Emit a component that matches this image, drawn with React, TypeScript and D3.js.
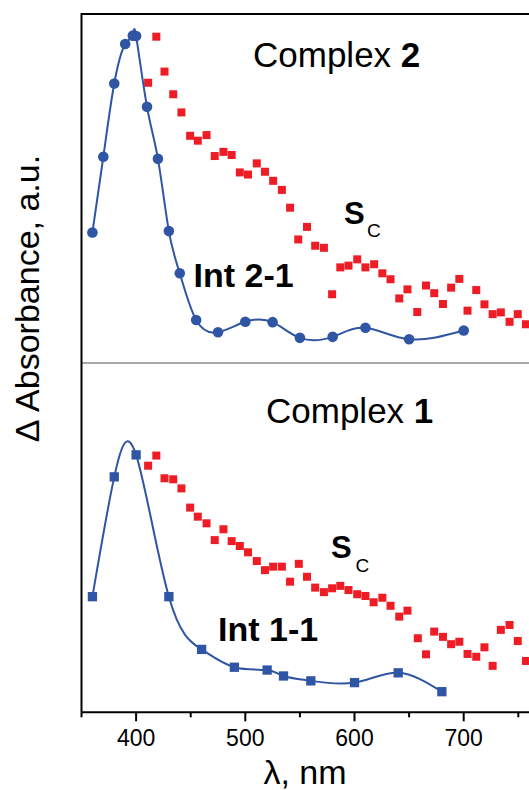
import React from "react";
import * as d3 from "d3";

// ---- data ----
const topIntWl = [360, 370, 380, 390, 397, 400, 410, 420, 430, 440, 455, 475, 500, 525, 550, 580, 610, 650, 700];
const topIntVal = [0.374, 0.591, 0.801, 0.914, 0.938, 0.937, 0.734, 0.585, 0.378, 0.257, 0.123, 0.088, 0.118, 0.117, 0.072, 0.075, 0.101, 0.068, 0.093];

const topScWl = [411, 418.5, 426, 434, 441.5, 449.5, 456.5, 464.5, 472, 480, 487.5, 495, 502.5, 510.5, 518, 525.5, 533.5, 541, 548.5, 556.5, 564, 572, 579.5, 587, 594.5, 602.5, 610, 618, 625.5, 633, 641, 648.5, 657.5, 665.5, 673, 681, 688.5, 696, 703.5, 711.5, 719, 726.5, 734, 742, 749.5, 757];
const topScVal = [0.803, 0.935, 0.835, 0.770, 0.718, 0.651, 0.637, 0.653, 0.593, 0.605, 0.596, 0.546, 0.540, 0.572, 0.548, 0.522, 0.496, 0.445, 0.354, 0.390, 0.336, 0.330, 0.197, 0.274, 0.279, 0.297, 0.274, 0.283, 0.257, 0.240, 0.185, 0.211, 0.146, 0.222, 0.200, 0.169, 0.216, 0.241, 0.150, 0.209, 0.168, 0.140, 0.145, 0.118, 0.140, 0.111];

const botIntWl = [360, 380, 400, 430, 460, 490, 520, 535, 560, 600, 640, 680];
const botIntVal = [0.331, 0.674, 0.737, 0.331, 0.180, 0.129, 0.121, 0.104, 0.090, 0.085, 0.113, 0.059];

const botScWl = [411, 418.5, 426, 434, 441.5, 449.5, 456.5, 464.5, 472, 480, 487.5, 495, 502.5, 510.5, 518, 525.5, 533.5, 541, 549, 556.5, 564, 572, 579.5, 587, 594.5, 602.5, 610, 617.5, 625.5, 633, 641, 648.5, 658, 665.5, 673, 681, 688.5, 696, 703.5, 711.5, 719, 726.5, 734, 742, 749.5, 757];
const botScVal = [0.706, 0.735, 0.670, 0.667, 0.641, 0.586, 0.560, 0.541, 0.493, 0.524, 0.490, 0.476, 0.458, 0.433, 0.407, 0.417, 0.417, 0.374, 0.425, 0.388, 0.357, 0.344, 0.355, 0.362, 0.350, 0.338, 0.333, 0.315, 0.328, 0.305, 0.274, 0.291, 0.212, 0.166, 0.231, 0.216, 0.195, 0.202, 0.167, 0.159, 0.186, 0.133, 0.236, 0.250, 0.204, 0.147];

const majorTicks = [400, 500, 600, 700];
const minorTicks = [350, 450, 550, 650, 750];

const BLUE = "#2f55a4";
const RED = "#ee1c24";
const FONT = "'Liberation Sans', Arial, Helvetica, sans-serif";

export default function App() {
  const W = 529, H = 790;
  const left = 81.5, top = 14, mid = 363, bottom = 712.3;
  const x = d3.scaleLinear().domain([350, 750]).range([left, left + 400 * 1.092]);
  const yTop = d3.scaleLinear().domain([0, 1]).range([mid, top]);
  const yBot = d3.scaleLinear().domain([0, 1]).range([bottom, mid]);

  const mkLine = (y: d3.ScaleLinear<number, number>) =>
    d3.line<[number, number]>().x(d => x(d[0])).y(d => y(d[1])).curve(d3.curveNatural);

  const topInt: [number, number][] = topIntWl.map((w, i) => [w, topIntVal[i]]);
  const botInt: [number, number][] = botIntWl.map((w, i) => [w, botIntVal[i]]);
  const topSc: [number, number][] = topScWl.map((w, i) => [w, topScVal[i]]);
  const botSc: [number, number][] = botScWl.map((w, i) => [w, botScVal[i]]);

  const rs = 8; // red square size
  const bs = 9.3; // blue square size

  return (
    <svg width={W} height={H} style={{ position: "absolute", left: 0, top: 0, display: "block", background: "#fff" }} fontFamily={FONT}>
      <rect x={0} y={0} width={W} height={H} fill="#fff" />
      {/* separator */}
      <line x1={left} x2={W} y1={mid} y2={mid} stroke="#8a8a8a" strokeWidth={1.5} />
      {/* top frame */}
      <line x1={left} x2={W} y1={top} y2={top} stroke="#000" strokeWidth={2} />
      {/* left axis */}
      <line x1={left} x2={left} y1={top - 1} y2={bottom} stroke="#000" strokeWidth={2} />
      {/* bottom axis */}
      <line x1={left} x2={W} y1={bottom} y2={bottom} stroke="#000" strokeWidth={2} />
      {majorTicks.map(t => (
        <g key={"M" + t}>
          <line x1={x(t)} x2={x(t)} y1={bottom} y2={bottom + 9} stroke="#000" strokeWidth={2} />
          <text x={x(t)} y={745.5} fontSize={23} textAnchor="middle" fill="#000">{t}</text>
        </g>
      ))}
      {minorTicks.map(t => (
        <line key={"m" + t} x1={x(t)} x2={x(t)} y1={bottom} y2={bottom + 5} stroke="#000" strokeWidth={2} />
      ))}
      <text x={305} y={783.5} fontSize={34} textAnchor="middle" fill="#000">λ, nm</text>
      <text transform="translate(38.5,298.5) rotate(-90)" fontSize={34} textAnchor="middle" fill="#000">Δ Absorbance, a.u.</text>

      {/* top panel */}
      {topSc.map((d, i) => (
        <rect key={"ts" + i} x={x(d[0]) - rs / 2} y={yTop(d[1]) - rs / 2} width={rs} height={rs} fill={RED} />
      ))}
      <path d={mkLine(yTop)(topInt) || ""} fill="none" stroke={BLUE} strokeWidth={2} />
      {topInt.map((d, i) => (
        <circle key={"tc" + i} cx={x(d[0])} cy={yTop(d[1])} r={5.3} fill={BLUE} />
      ))}
      <text x={253} y={67} fontSize={35} fill="#000">Complex <tspan fontWeight="bold">2</tspan></text>
      <text x={193.5} y={287} fontSize={34} fontWeight="bold" fill="#000">Int 2-1</text>
      <text x={344} y={224} fontSize={31} fontWeight="bold" fill="#000">S</text>
      <text x={367} y={237} fontSize={19} fill="#000">C</text>

      {/* bottom panel */}
      {botSc.map((d, i) => (
        <rect key={"bs" + i} x={x(d[0]) - rs / 2} y={yBot(d[1]) - rs / 2} width={rs} height={rs} fill={RED} />
      ))}
      <path d={mkLine(yBot)(botInt) || ""} fill="none" stroke={BLUE} strokeWidth={2} />
      {botInt.map((d, i) => (
        <rect key={"bb" + i} x={x(d[0]) - bs / 2} y={yBot(d[1]) - bs / 2} width={bs} height={bs} fill={BLUE} />
      ))}
      <text x={266} y={423} fontSize={35} fill="#000">Complex <tspan fontWeight="bold">1</tspan></text>
      <text x={218} y={641} fontSize={34} fontWeight="bold" fill="#000">Int 1-1</text>
      <text x={331} y={558} fontSize={31} fontWeight="bold" fill="#000">S</text>
      <text x={355.5} y={572} fontSize={19} fill="#000">C</text>
    </svg>
  );
}
